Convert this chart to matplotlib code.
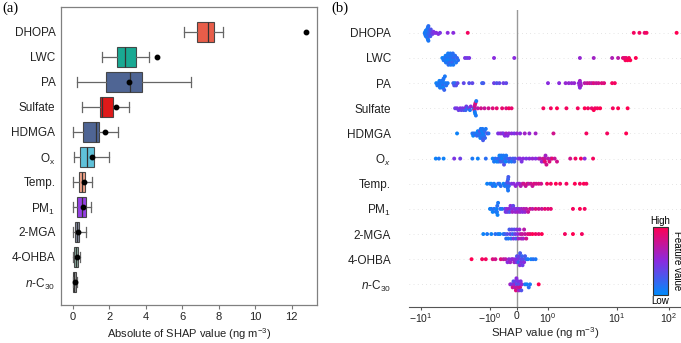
import numpy as np
import matplotlib
matplotlib.use("Agg")
import matplotlib.pyplot as plt
from matplotlib.colors import LinearSegmentedColormap, Normalize
from matplotlib.cm import ScalarMappable

plt.rcParams['font.family'] = ['Liberation Sans', 'DejaVu Sans']
plt.rcParams['mathtext.fontset'] = 'custom'
plt.rcParams['mathtext.rm'] = 'Liberation Sans'
plt.rcParams['mathtext.it'] = 'Liberation Sans:italic'
plt.rcParams['mathtext.bf'] = 'Liberation Sans:bold'

# ---- panel (a): |SHAP| box statistics ----
labels_a = ['DHOPA', 'LWC', 'PA', 'Sulfate', 'HDMGA', r'O$_\mathrm{x}$', 'Temp.',
            r'PM$_1$', '2-MGA', '4-OHBA', r'$n$-C$_{30}$']
whis_lo = [6.13, 1.63, 0.25, 0.49, 0.04, 0.05, 0.02, 0.00, 0.00, 0.00, 0.00]
q1      = [6.81, 2.45, 1.85, 1.50, 0.58, 0.40, 0.35, 0.25, 0.13, 0.07, 0.01]
med     = [7.42, 2.89, 3.13, 1.59, 1.26, 0.77, 0.49, 0.53, 0.25, 0.18, 0.06]
q3      = [7.73, 3.46, 3.79, 2.23, 1.43, 1.19, 0.68, 0.73, 0.35, 0.29, 0.20]
whis_hi = [8.22, 4.18, 6.50, 3.09, 2.50, 1.99, 1.04, 0.99, 0.73, 0.42, 0.25]
means   = [12.82, 4.61, 3.10, 2.40, 1.79, 1.08, 0.64, 0.55, 0.29, 0.22, 0.10]
box_colors = ['#E64B35', '#00A087', '#3C5488', '#DC0000', '#3C5488', '#4DBBD5',
              '#F39B7F', '#8A2BE2', '#7E869E', '#7FA596', '#8C8C8C']

# ---- panel (b): SHAP values and feature values per feature ----
labels_b = ['DHOPA', 'LWC', 'PA', 'Sulfate', 'HDMGA', r'O$_x$', 'Temp.',
            r'PM$_1$', '2-MGA', '4-OHBA', r'$n$-C$_{30}$']

shap_dhopa = [-8.8, -8.7, -8.6, -8.6, -8.5, -8.5, -8.4, -8.4, -8.3, -8.3, -8.2, -8.2, -8.1, -8.1,
              -8.0, -8.0, -7.9, -7.9, -7.8, -7.8, -7.7, -7.7, -7.6, -7.5, -7.4, -7.3, -7.2, -7.0,
              -6.8, -6.6, -6.3, -6.0, -5.6, -5.3, -4.1, -3.4, -2.1, 21, 27, 34, 37, 140]
fv_dhopa = [0.05, 0.1, 0.08, 0.12, 0.06, 0.1, 0.15, 0.05, 0.1, 0.12, 0.08, 0.15, 0.1, 0.05,
            0.12, 0.2, 0.1, 0.08, 0.15, 0.1, 0.12, 0.2, 0.15, 0.18, 0.2, 0.25, 0.3, 0.35,
            0.4, 0.45, 0.45, 0.5, 0.5, 0.45, 0.5, 0.5, 0.95, 0.95, 0.95, 0.9, 0.95, 1.0]

shap_lwc = [-4.9, -4.7, -4.6, -4.5, -4.4, -4.35, -4.3, -4.2, -4.15, -4.1, -4.05, -4.0, -3.95,
            -3.9, -3.85, -3.8, -3.75, -3.7, -3.65, -3.6, -3.55, -3.5, -3.45, -3.4, -3.35, -3.3,
            -3.2, -3.1, -3.0, -2.9, -2.3, -2.15, -2.0, -0.85, -0.1,
            2.9, 4.6, 8.5, 10.5, 13, 14, 14.5, 15, 16, 17, 18, 23]
fv_lwc = [0.05, 0.1, 0.08, 0.12, 0.06, 0.1, 0.15, 0.05, 0.1, 0.12, 0.08, 0.15, 0.1,
          0.05, 0.12, 0.2, 0.1, 0.08, 0.15, 0.1, 0.12, 0.2, 0.15, 0.1, 0.2, 0.12,
          0.15, 0.1, 0.2, 0.15, 0.45, 0.4, 0.45, 0.5, 0.5,
          0.55, 0.6, 0.65, 0.7, 0.85, 0.9, 0.95, 0.9, 1.0, 0.95, 1.0, 1.0]

shap_pa = [-6.0, -5.8, -5.6, -5.5, -5.4, -5.3, -5.2, -5.1, -5.0, -4.9, -4.85, -4.8, -4.8, -4.75,
           -4.7, -4.6, -4.5, -4.4, -4.3, -4.1, -3.4, -3.3, -3.2, -3.1, -2.95, -2.4, -2.0, -1.8,
           -1.3, -1.25, -0.85, -0.75, -0.65, -0.5, -0.4,
           1.0, 1.45, 1.8, 2.0, 2.2, 2.4, 2.8, 2.85, 2.9, 2.9, 2.95, 3.0,
           3.4, 3.7, 4.0, 4.3, 4.6, 5.0, 5.4, 6.0, 6.5, 8.5, 9.3]
fv_pa = [0.05, 0.1, 0.08, 0.12, 0.06, 0.1, 0.15, 0.05, 0.1, 0.12, 0.08, 0.15, 0.1, 0.05,
         0.12, 0.2, 0.1, 0.08, 0.15, 0.1, 0.2, 0.3, 0.15, 0.3, 0.35, 0.35, 0.3, 0.35,
         0.2, 0.25, 0.4, 0.3, 0.35, 0.4, 0.35,
         0.5, 0.5, 0.55, 0.55, 0.55, 0.55, 0.5, 0.55, 0.6, 0.5, 0.55, 0.6,
         0.7, 0.75, 0.8, 0.7, 0.85, 0.75, 0.8, 0.85, 0.85, 0.95, 0.95]

shap_sulfate = [-3.2, -3.0, -2.85, -2.7, -2.6, -2.5, -2.4, -2.3, -2.25, -2.2, -2.1, -2.0, -1.95,
                -1.9, -1.72, -1.7, -1.68, -1.67, -1.66, -1.65, -1.64, -1.62, -1.6, -1.58,
                -1.5, -1.35, -1.2, -1.05, -0.9, -0.75, -0.55, -0.4, -0.3, -0.2,
                0.85, 1.1, 1.35, 1.85, 2.7, 3.4, 3.8, 4.3, 4.6, 4.8, 5.2, 5.7, 8.7, 10.5, 16]
fv_sulfate = [0.4, 0.45, 0.4, 0.5, 0.35, 0.45, 0.3, 0.5, 0.2, 0.4, 0.15, 0.45, 0.1,
              0.5, 0.7, 0.05, 0.8, 0.8, 0.1, 0.75, 0.05, 0.85, 0.1, 0.1,
              0.7, 0.8, 0.75, 0.8, 0.85, 0.9, 0.9, 0.85, 0.95, 0.9,
              0.95, 0.95, 1.0, 0.95, 0.95, 1.0, 0.95, 0.9, 1.0, 0.95, 0.95, 1.0, 0.95, 1.0, 1.0]

shap_hdmga = [-3.0, -1.8, -1.75, -1.7, -1.6, -1.55, -1.5, -1.45, -1.42, -1.4, -1.38, -1.36,
              -1.34, -1.32, -1.3, -1.3, -1.28, -1.26, -1.24, -1.22, -1.2, -1.18, -1.15, -1.1,
              -1.05, -0.7, -0.62, -0.55, -0.5, -0.45, -0.4, -0.35, -0.3, -0.2, -0.1, 0.0, 0.1,
              0.25, 0.4, 0.6, 1.2, 3.6, 7.2, 15]
fv_hdmga = [0.05, 0.1, 0.05, 0.15, 0.1, 0.2, 0.05, 0.1, 0.15, 0.3, 0.05, 0.1,
            0.2, 0.1, 0.05, 0.15, 0.1, 0.25, 0.05, 0.1, 0.15, 0.2, 0.1, 0.3,
            0.15, 0.45, 0.5, 0.55, 0.45, 0.5, 0.6, 0.5, 0.55, 0.5, 0.45, 0.55, 0.5,
            0.6, 0.55, 0.6, 0.8, 0.95, 0.95, 1.0]

shap_ox = [-6.1, -5.5, -4.7, -3.3, -2.7, -1.8, -1.5, -1.15,
           -0.9, -0.85, -0.8, -0.75, -0.7, -0.68, -0.65, -0.62, -0.6, -0.58, -0.55, -0.52,
           -0.5, -0.48, -0.45, -0.42, -0.4, -0.35, -0.3, -0.25, -0.2, -0.15, -0.1, -0.07,
           0.05, 0.1, 0.15, 0.2, 0.3, 0.4, 0.5, 0.6,
           0.7, 0.75, 0.8, 0.85, 0.88, 0.9, 0.9, 0.92, 0.95, 1.0, 1.05, 1.1, 1.15, 1.25, 1.35,
           2.1, 2.5, 3.0, 3.4, 4.5]
fv_ox = [0.05, 0.1, 0.05, 0.45, 0.4, 0.1, 0.05, 0.15,
         0.05, 0.1, 0.15, 0.05, 0.2, 0.1, 0.05, 0.15, 0.25, 0.1, 0.05, 0.2,
         0.1, 0.3, 0.15, 0.05, 0.1, 0.2, 0.15, 0.3, 0.1, 0.25, 0.2, 0.3,
         0.45, 0.5, 0.45, 0.5, 0.45, 0.5, 0.55, 0.5,
         0.6, 0.7, 0.55, 0.8, 0.65, 0.75, 0.9, 0.6, 0.8, 0.7, 0.85, 0.65, 0.9, 0.75, 0.8,
         0.8, 0.95, 0.95, 0.5, 0.95]

shap_temp = [-1.1, -1.0, -0.95, -0.9, -0.85, -0.8, -0.7, -0.65, -0.6, -0.5, -0.45, -0.4,
             -0.36, -0.35, -0.34, -0.33, -0.33, -0.32, -0.31, -0.3,
             -0.2, -0.12, -0.05, 0.02, 0.08,
             0.12, 0.18, 0.22, 0.28, 0.33, 0.38, 0.45, 0.5, 0.55, 0.62, 0.7, 0.78,
             0.97, 1.1, 1.3, 1.5, 1.85, 2.45, 2.9, 3.3, 3.6]
fv_temp = [0.05, 0.1, 0.05, 0.15, 0.1, 0.05, 0.2, 0.1, 0.15, 0.05, 0.1, 0.2,
           0.1, 0.3, 0.15, 0.2, 0.1, 0.25, 0.3, 0.15,
           0.45, 0.5, 0.55, 0.5, 0.55,
           0.65, 0.7, 0.8, 0.75, 0.85, 0.7, 0.8, 0.75, 0.85, 0.8, 0.85, 0.8,
           0.95, 0.95, 1.0, 0.95, 0.95, 1.0, 0.95, 1.0, 0.95]

shap_pm1 = [-1.0, -0.95, -0.9, -0.85, -0.78, -0.76, -0.74, -0.73, -0.72, -0.7, -0.62, -0.55,
            -0.45, -0.42, -0.38, -0.35, -0.3, -0.27, -0.24, -0.2, -0.17, -0.14, -0.1, -0.06,
            -0.02, 0.02, 0.06, 0.1, 0.14, 0.18, 0.22, 0.26,
            0.3, 0.36, 0.42, 0.5, 0.6, 0.7, 0.8, 0.9, 1.0, 1.1, 2.3, 2.9, 3.4]
fv_pm1 = [0.05, 0.1, 0.05, 0.15, 0.1, 0.05, 0.1, 0.15, 0.05, 0.1, 0.15, 0.1,
          0.3, 0.45, 0.5, 0.4, 0.55, 0.3, 0.5, 0.45, 0.6, 0.35, 0.5, 0.55,
          0.45, 0.6, 0.5, 0.55, 0.6, 0.5, 0.65, 0.55,
          0.7, 0.75, 0.8, 0.7, 0.85, 0.8, 0.75, 0.9, 0.85, 0.9, 0.95, 1.0, 0.95]

shap_2mga = [-1.25, -1.1, -0.95, -0.8, -0.7, -0.63,
             -0.5, -0.45, -0.4, -0.36, -0.32, -0.28, -0.25, -0.22, -0.19, -0.16, -0.13, -0.1,
             -0.07, -0.04, -0.01, 0.02, 0.05, 0.08, 0.11, 0.14, 0.17, 0.2, 0.23, 0.26, 0.3,
             0.35, 0.42, 0.5, 0.6, 0.7, 0.8, 1.76, 2.3, 3.1]
fv_2mga = [0.05, 0.1, 0.05, 0.15, 0.1, 0.05,
           0.1, 0.2, 0.15, 0.3, 0.1, 0.25, 0.4, 0.15, 0.35, 0.2, 0.45, 0.3,
           0.4, 0.25, 0.45, 0.5, 0.6, 0.55, 0.7, 0.65, 0.75, 0.6, 0.7, 0.75, 0.8,
           0.85, 0.9, 1.0, 0.95, 0.9, 1.0, 0.95, 1.0, 0.95]

shap_4ohba = [-1.85, -1.3, -1.15, -0.9, -0.8, -0.6, -0.5, -0.42,
              -0.35, -0.3, -0.25, -0.2, -0.15, -0.1, -0.06, -0.02,
              0.0, 0.03, 0.05, 0.07, 0.09, 0.1, 0.12, 0.14, 0.16, 0.18, 0.2, 0.23, 0.26, 0.3,
              0.35, 0.45, 0.52, 0.6]
fv_4ohba = [1.0, 0.95, 0.95, 0.85, 0.8, 0.85, 0.75, 0.7,
            0.5, 0.55, 0.6, 0.5, 0.55, 0.6, 0.5, 0.45,
            0.3, 0.45, 0.2, 0.4, 0.5, 0.25, 0.35, 0.45, 0.2, 0.4, 0.3, 0.5, 0.25, 0.2,
            0.1, 0.05, 0.15, 0.1]

shap_nc30 = [-0.25, -0.2, -0.16, -0.13, -0.1, -0.08, -0.06, -0.04, -0.02, 0.0, 0.02, 0.04,
             0.06, 0.08, 0.1, 0.12, 0.14, 0.16, 0.26, 0.32, 0.38, 0.42, 0.7]
fv_nc30 = [0.6, 0.45, 0.8, 0.3, 0.55, 0.7, 0.4, 0.85, 0.5, 0.3, 0.75, 0.45,
           0.6, 0.35, 0.8, 0.5, 0.3, 0.55, 0.1, 0.05, 0.15, 0.1, 1.0]

shap_rows = [shap_dhopa, shap_lwc, shap_pa, shap_sulfate, shap_hdmga, shap_ox,
             shap_temp, shap_pm1, shap_2mga, shap_4ohba, shap_nc30]
fv_rows = [fv_dhopa, fv_lwc, fv_pa, fv_sulfate, fv_hdmga, fv_ox,
           fv_temp, fv_pm1, fv_2mga, fv_4ohba, fv_nc30]

xticks_b = [-10, -1, 0, 1, 10, 100]
xticklabels_b = [r'$-10^{1}$', r'$-10^{0}$', '0', r'$10^{0}$', r'$10^{1}$', r'$10^{2}$']

# symlog-like axis, spacing matched to the original figure
ref_vals = np.array([-100, -10, -1, 0, 1, 10, 100, 1000])
ref_pos = np.array([352, 421, 490, 517, 548, 617, 669, 721], dtype=float)


def tsym(x):
    x = np.asarray(x, dtype=float)
    a = np.abs(x)
    return np.sign(x) * np.where(a < 1, a, 1 + np.log10(np.maximum(a, 1)))


def itsym(t):
    t = np.asarray(t, dtype=float)
    a = np.abs(t)
    return np.sign(t) * np.where(a < 1, a, 10 ** (np.maximum(a, 1) - 1))


t_ref = tsym(ref_vals)


def fwd(x):
    return np.interp(tsym(x), t_ref, ref_pos)


def inv(u):
    return itsym(np.interp(u, ref_pos, t_ref))


def swarm(u, width=2.5, row_height=0.4):
    q = np.round((u - u.min()) / width)
    order = np.argsort(q, kind='stable')
    ys = np.zeros(len(u))
    layer, last = 0, None
    for k in order:
        if q[k] != last:
            layer = 0
        ys[k] = np.ceil(layer / 2) * ((layer % 2) * 2 - 1)
        layer += 1
        last = q[k]
    ys *= 0.9 * (row_height / np.max(ys + 1))
    return ys


cmap = LinearSegmentedColormap.from_list('shap_rb', ['#008bfb', '#8a2be0', '#ff0052'])

fig = plt.figure(figsize=(6.81, 3.43), dpi=100)
ax1 = fig.add_axes([0.0896, 0.1108, 0.376, 0.869])
ax2 = fig.add_axes([0.6006, 0.105, 0.3994, 0.866])

# ---------- (a) ----------
n = len(labels_a)
stats = [dict(whislo=whis_lo[i], q1=q1[i], med=med[i], q3=q3[i], whishi=whis_hi[i],
              mean=means[i], fliers=[]) for i in range(n)]
bp = ax1.bxp(stats, positions=range(n), widths=0.82, orientation='horizontal',
             patch_artist=True, showmeans=True, showfliers=False, capwidths=0.42,
             boxprops=dict(edgecolor='#3a3a3a', linewidth=0.8),
             whiskerprops=dict(color='#666666', linewidth=0.9),
             capprops=dict(color='#666666', linewidth=0.9),
             medianprops=dict(color='#333333', linewidth=0.9),
             meanprops=dict(marker='o', markerfacecolor='black', markeredgecolor='black',
                            markersize=3.2))
for patch, c in zip(bp['boxes'], box_colors):
    patch.set_facecolor(c)
    patch.set_alpha(0.9)
    patch.set_edgecolor('#3a3a3a')

ax1.set_xlim(-0.64, 13.4)
ax1.set_ylim(n - 1 + 0.92, -1.0)
ax1.set_yticks(range(n))
ax1.set_yticklabels(labels_a, fontsize=8.5, color='#222222')
ax1.set_xticks(range(0, 13, 2))
ax1.tick_params(axis='x', labelsize=8, length=3, color='#777777', labelcolor='#222222', pad=2)
ax1.tick_params(axis='y', length=0, pad=4)
for sp in ax1.spines.values():
    sp.set_color('#808080')
    sp.set_linewidth(0.9)
ax1.set_xlabel(r'Absolute of SHAP value (ng m$^{-3}$)', fontsize=8, color='#222222', labelpad=3)

# ---------- (b) ----------
ax2.set_xscale('function', functions=(fwd, inv))
for i, (sv, fv) in enumerate(zip(shap_rows, fv_rows)):
    sv = np.asarray(sv, dtype=float)
    ys = swarm(fwd(sv))
    ax2.axhline(i, color='#cccccc', lw=0.5, dashes=(1, 5), zorder=-1)
    ax2.scatter(sv, i + ys, c=fv, cmap=cmap, vmin=0, vmax=1, s=8, linewidths=0, zorder=3)
ax2.axvline(0, color='#999999', lw=1, zorder=-1)

ax2.set_xlim(-14.9, 170)
ax2.set_ylim(n - 1 + 0.9, -0.91)
ax2.set_yticks(range(n))
ax2.set_yticklabels(labels_b, fontsize=8.5, color='#222222')
ax2.tick_params(axis='y', length=0, pad=13)
ax2.set_xticks(xticks_b)
ax2.set_xticklabels(xticklabels_b)
ax2.xaxis.set_minor_locator(matplotlib.ticker.NullLocator())
ax2.tick_params(axis='x', labelsize=7.5, length=2.5, color='#555555', labelcolor='#222222', pad=0.5)
for s in ['top', 'right', 'left']:
    ax2.spines[s].set_visible(False)
ax2.spines['bottom'].set_color('#555555')
ax2.set_xlabel(r'SHAP value (ng m$^{-3}$)', fontsize=8.2, color='#222222')
ax2.xaxis.set_label_coords(0.5, -0.063)

# colour bar
cax = fig.add_axes([0.9589, 0.140, 0.022, 0.198])
cb = fig.colorbar(ScalarMappable(norm=Normalize(0, 1), cmap=cmap), cax=cax)
cb.set_ticks([])
cb.outline.set_linewidth(0.8)
cb.outline.set_edgecolor('#333333')
cax.text(0.5, 1.02, 'High', ha='center', va='bottom', fontsize=7, transform=cax.transAxes)
cax.text(0.5, -0.02, 'Low', ha='center', va='top', fontsize=7, transform=cax.transAxes)
cax.text(1.25, 0.5, 'Feature value', ha='left', va='center', rotation=270, fontsize=7,
         transform=cax.transAxes)

fig.text(0.003, 0.995, '(a)', family='Liberation Serif', fontsize=10.5, va='top')
fig.text(0.487, 0.995, '(b)', family='Liberation Serif', fontsize=10.5, va='top')

fig.savefig('out.png', dpi=100)
